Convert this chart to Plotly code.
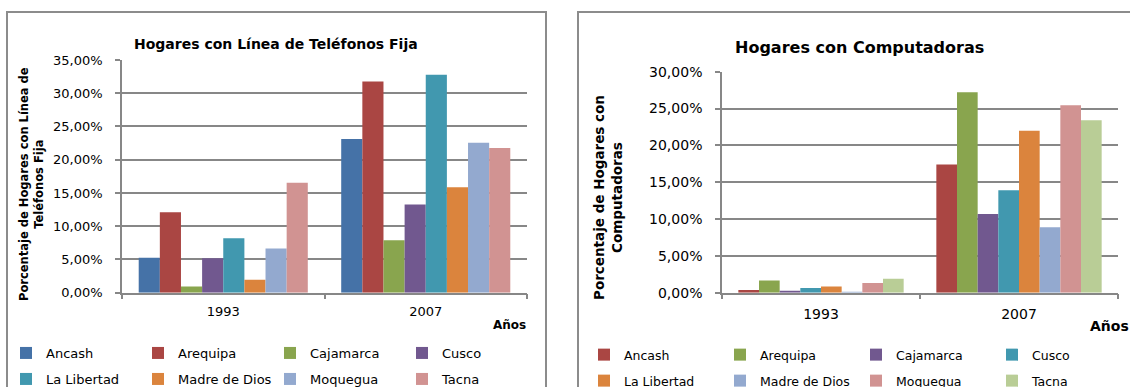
import plotly.graph_objects as go

# ---------------- data ----------------
years = ["1993", "2007"]
regions = ["Ancash", "Arequipa", "Cajamarca", "Cusco",
           "La Libertad", "Madre de Dios", "Moquegua", "Tacna"]

# Hogares con Línea de Teléfonos Fija (fraction)
tel_1993 = [0.0525, 0.121, 0.0095, 0.052, 0.082, 0.0195, 0.0665, 0.1655]
tel_2007 = [0.231, 0.3175, 0.079, 0.1325, 0.328, 0.1585, 0.2255, 0.2175]

# Hogares con Computadoras (fraction)
pc_1993 = [0.0035, 0.0167, 0.0015, 0.0063, 0.0085, 0.001, 0.013, 0.019]
pc_2007 = [0.174, 0.272, 0.107, 0.139, 0.220, 0.089, 0.2545, 0.234]

tel_colors = ["#4572A7", "#AA4643", "#89A54E", "#71588F",
              "#4198AF", "#DB843D", "#93A9CF", "#D19392"]
pc_colors = ["#AA4643", "#89A54E", "#71588F", "#4198AF",
             "#DB843D", "#93A9CF", "#D19392", "#B9CD96"]

W, H = 1130, 387
FONT = "DejaVu Sans"
GRID = "#878787"

def px(x):
    return x / W

def py(y):
    return 1 - y / H

fig = go.Figure()

for i, r in enumerate(regions):
    fig.add_trace(go.Bar(
        x=years, y=[tel_1993[i], tel_2007[i]], name=r,
        marker=dict(color=tel_colors[i], line=dict(width=0)),
        xaxis="x", yaxis="y",
        legend="legend" if i < 4 else "legend2",
    ))
for i, r in enumerate(regions):
    fig.add_trace(go.Bar(
        x=years, y=[pc_1993[i], pc_2007[i]], name=r,
        marker=dict(color=pc_colors[i], line=dict(width=0)),
        xaxis="x2", yaxis="y2",
        legend="legend3" if i < 4 else "legend4",
    ))

axis_common = dict(showline=True, linecolor=GRID, linewidth=1.5,
                   ticks="outside", ticklen=5, tickcolor=GRID, tickwidth=1.5,
                   automargin=False)

fig.update_layout(
    width=W, height=H,
    margin=dict(l=0, r=0, t=0, b=0, autoexpand=False),
    paper_bgcolor="white", plot_bgcolor="white",
    separators=", ",
    barmode="group", bargap=0.165, bargroupgap=0,
    font=dict(family=FONT, color="#000000"),
    xaxis=dict(domain=[px(122), px(527)], type="category",
               tickson="boundaries", anchor="y",
               tickfont=dict(size=13), ticklabelstandoff=6, **axis_common),
    yaxis=dict(domain=[py(292.7), py(60)], range=[0, 0.35], dtick=0.05,
               tickformat=".2%", showgrid=True, gridcolor=GRID, gridwidth=1.5,
               zeroline=False, anchor="x",
               tickfont=dict(size=13), ticklabelstandoff=10, **axis_common),
    xaxis2=dict(domain=[px(722), px(1118)], type="category",
                tickson="boundaries", anchor="y2",
                tickfont=dict(size=14), ticklabelstandoff=8, **axis_common),
    yaxis2=dict(domain=[py(292.7), py(71.7)], range=[0, 0.30], dtick=0.05,
                tickformat=".2%", showgrid=True, gridcolor=GRID, gridwidth=1.5,
                zeroline=False, anchor="x2",
                tickfont=dict(size=14), ticklabelstandoff=10, **axis_common),
)

leg_common = dict(orientation="h", entrywidth=87, entrywidthmode="pixels",
                  xanchor="left", yanchor="middle", bgcolor="rgba(0,0,0,0)",
                  font=dict(size=13, family=FONT), itemclick=False)
leg_right = {**leg_common, "entrywidth": 91, "font": dict(size=12.5, family=FONT)}
fig.update_layout(
    legend=dict(x=px(6), y=py(353), **leg_common),
    legend2=dict(x=px(6), y=py(379), **leg_common),
    legend3=dict(x=px(584), y=py(355), **leg_right),
    legend4=dict(x=px(584), y=py(381), **leg_right),
)

# chart frames
fig.add_shape(type="rect", xref="paper", yref="paper",
              x0=px(7), x1=px(546), y0=-0.2, y1=py(12),
              line=dict(color="#8c8c8c", width=2), fillcolor="rgba(0,0,0,0)",
              layer="below")
fig.add_shape(type="rect", xref="paper", yref="paper",
              x0=px(578), x1=1.2, y0=-0.2, y1=py(12),
              line=dict(color="#8c8c8c", width=2), fillcolor="rgba(0,0,0,0)",
              layer="below")

ann = [
    dict(text="<b>Hogares con Línea de Teléfonos Fija</b>", x=px(276), y=py(44),
         font=dict(size=14)),
    dict(text="<b>Hogares con Computadoras</b>", x=px(859), y=py(47),
         font=dict(size=16)),
    dict(text="<b>Porcentaje de Hogares con Línea de<br>Teléfonos Fija</b>",
         x=px(31), y=py(184), textangle=-90, font=dict(size=11.5)),
    dict(text="<b>Porcentaje de Hogares con<br>Computadoras</b>",
         x=px(608), y=py(198), textangle=-90, font=dict(size=13.5)),
    dict(text="<b>Años</b>", x=px(509), y=py(325), font=dict(size=12)),
    dict(text="<b>Años</b>", x=px(1109), y=py(326), font=dict(size=14)),
]
for a in ann:
    fig.add_annotation(xref="paper", yref="paper", showarrow=False,
                       xanchor="center", yanchor="middle", align="center", **a)

fig.write_html("out.html",
               config={"displayModeBar": False},
               post_script="document.body.style.margin='0px';"
                           "document.body.style.overflow='hidden';")
